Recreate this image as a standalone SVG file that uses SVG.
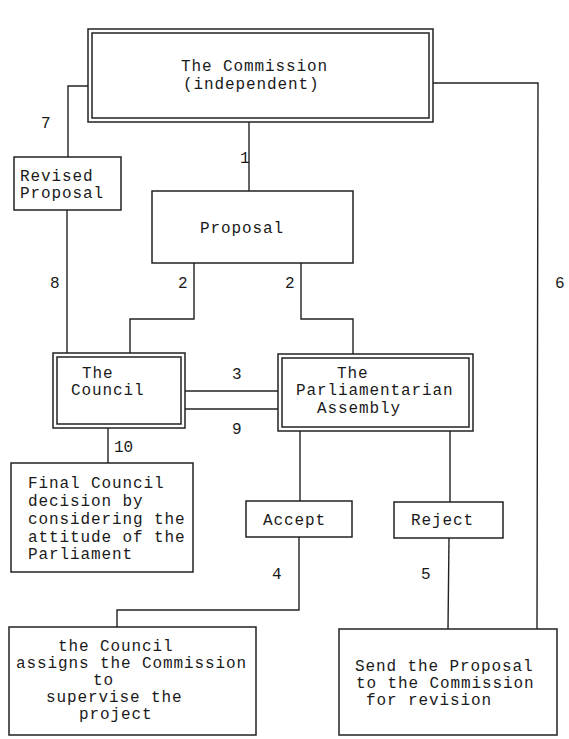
<svg xmlns="http://www.w3.org/2000/svg" width="569" height="739" viewBox="0 0 569 739">
<style>
.box{fill:none;stroke:#222;stroke-width:1.5}
.ln{fill:none;stroke:#222;stroke-width:1.4}
text{font-family:"Liberation Mono","Courier New",monospace;font-size:16px;letter-spacing:0.9px;fill:#1a1a1a}
.num{font-size:16px;letter-spacing:0}
</style>
<rect width="569" height="739" fill="#fff"/>
<g id="connectors">
<polyline class="ln" points="249,122 249,191"/>
<polyline class="ln" points="88,86 68,86 68,157"/>
<polyline class="ln" points="67,210 67,353"/>
<polyline class="ln" points="194,263 194,319 130,319 130,353"/>
<polyline class="ln" points="301,263 301,319 353,319 353,354"/>
<polyline class="ln" points="433,83 538,83 537,629"/>
<polyline class="ln" points="185,391 278,391"/>
<polyline class="ln" points="185,409 278,409"/>
<polyline class="ln" points="108,428 108,463"/>
<polyline class="ln" points="300,431 300,501"/>
<polyline class="ln" points="450,431 450,502"/>
<polyline class="ln" points="299,537 299,610 117,610 117,627"/>
<polyline class="ln" points="449,538 448,629"/>
<text class="num" x="240" y="163">1</text>
<text class="num" x="41" y="128">7</text>
<text class="num" x="50" y="288">8</text>
<text class="num" x="178" y="288">2</text>
<text class="num" x="285" y="288">2</text>
<text class="num" x="555" y="288">6</text>
<text class="num" x="232" y="379">3</text>
<text class="num" x="232" y="434">9</text>
<text class="num" x="114" y="452">10</text>
<text class="num" x="272" y="579">4</text>
<text class="num" x="421" y="579">5</text>
</g>
<g id="commission">
<rect class="box" x="88" y="29" width="345" height="93"/>
<rect class="box" x="92" y="33" width="337" height="85"/>
<text x="181" y="71">The Commission</text>
<text x="183" y="89">(independent)</text>
</g>
<g id="revised-proposal">
<rect class="box" x="14" y="157" width="107" height="53"/>
<text x="20" y="181">Revised</text>
<text x="20" y="198">Proposal</text>
</g>
<g id="proposal">
<rect class="box" x="152" y="191" width="201" height="72"/>
<text x="200" y="233">Proposal</text>
</g>
<g id="council">
<rect class="box" x="53" y="353" width="132" height="75"/>
<rect class="box" x="57" y="357" width="124" height="67"/>
<text x="82" y="378">The</text>
<text x="71" y="395">Council</text>
</g>
<g id="parliament">
<rect class="box" x="278" y="354" width="195" height="77"/>
<rect class="box" x="282" y="358" width="187" height="69"/>
<text x="337" y="378">The</text>
<text x="296" y="395">Parliamentarian</text>
<text x="317" y="413">Assembly</text>
</g>
<g id="final-decision">
<rect class="box" x="11" y="463" width="182" height="109"/>
<text x="28" y="488">Final Council</text>
<text x="28" y="506">decision by</text>
<text x="28" y="524">considering the</text>
<text x="28" y="542">attitude of the</text>
<text x="28" y="559">Parliament</text>
</g>
<g id="accept">
<rect class="box" x="246" y="501" width="106" height="36"/>
<text x="263" y="525">Accept</text>
</g>
<g id="reject">
<rect class="box" x="394" y="502" width="109" height="36"/>
<text x="411" y="525">Reject</text>
</g>
<g id="council-assigns">
<rect class="box" x="9" y="627" width="247" height="108"/>
<text x="58" y="651">the Council</text>
<text x="16" y="668">assigns the Commission</text>
<text x="93" y="685">to</text>
<text x="46" y="702">supervise the</text>
<text x="79" y="719">project</text>
</g>
<g id="send-proposal">
<rect class="box" x="339" y="629" width="218" height="106"/>
<text x="355" y="671">Send the Proposal</text>
<text x="356" y="688">to the Commission</text>
<text x="366" y="705">for revision</text>
</g>
</svg>
